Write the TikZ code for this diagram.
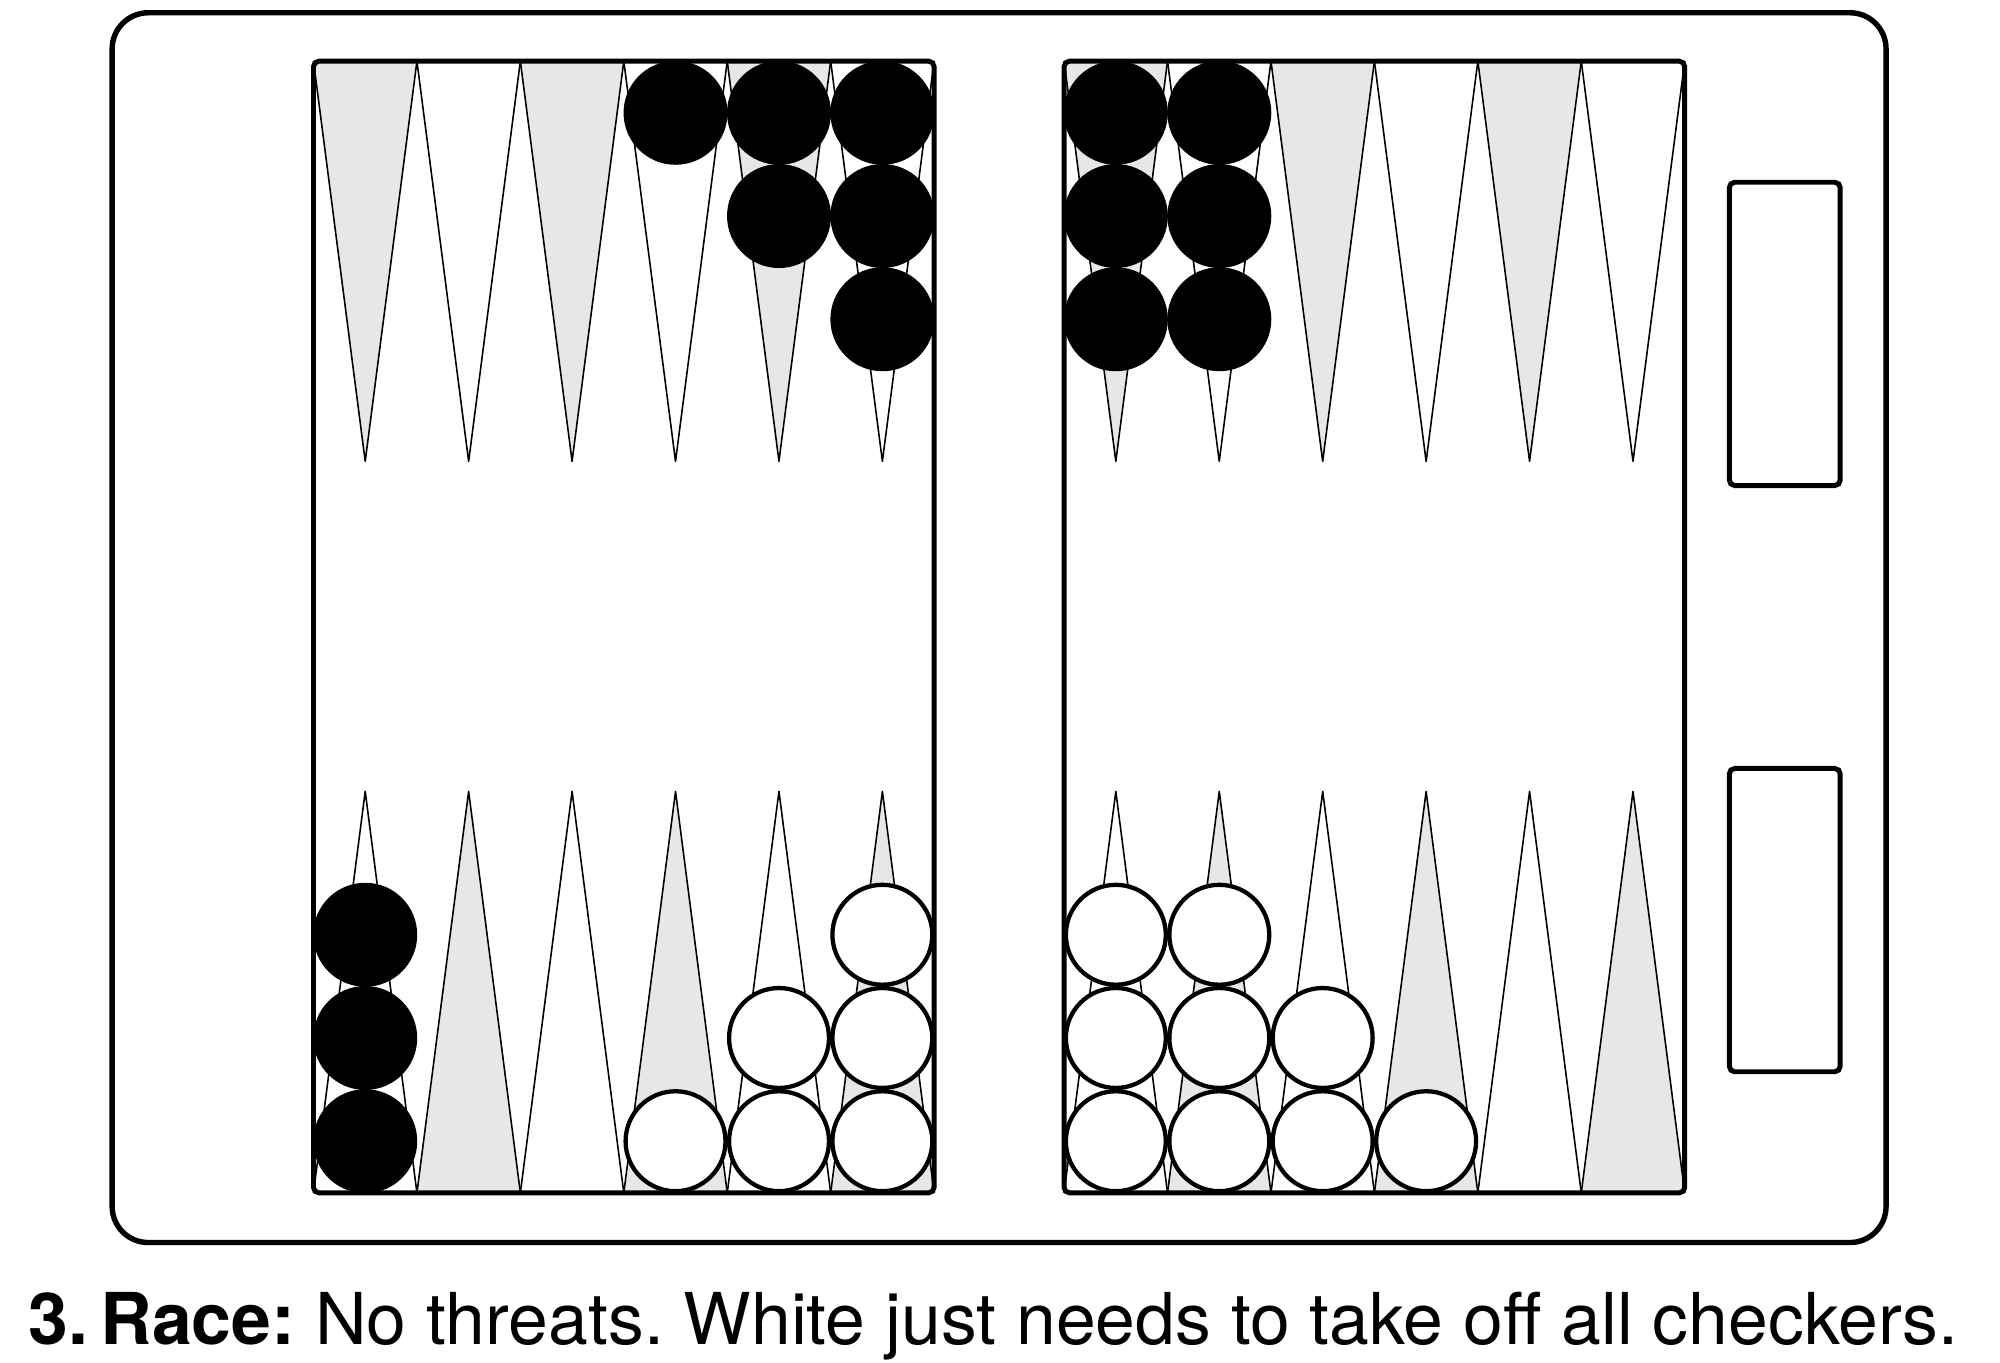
\documentclass[tikz,border=0pt]{standalone}
\usepackage{fontspec}
\setmainfont{TeX Gyre Heros}
\definecolor{ptgray}{RGB}{230,231,230}
\begin{document}
\frenchspacing
\begin{tikzpicture}[x=0.01cm,y=-0.01cm,
  frame/.style={draw=black,line width=1.1pt,rounded corners=1.2pt},
  outerframe/.style={draw=black,line width=1.2pt,rounded corners=8pt},
  pt/.style={draw=black,line width=0.35pt,line join=round},
  blackck/.style={fill=black,draw=none},
  whiteck/.style={fill=white,draw=black,line width=0.95pt}]
\useasboundingbox (0,0) rectangle (1560,1063.1);
\begin{scope}[scale=0.994]
% outer case
\draw[outerframe] (88,10) rectangle (1480,975);
% bear-off trays
\draw[frame] (1357,143) rectangle (1444,381);
\draw[frame] (1357,603) rectangle (1444,841);
% boards background
\fill[white] (246,48) rectangle (733,936);
\fill[white] (835,48) rectangle (1322,936);
% points
\def\pw{81.1667}
\foreach \bx in {246,835}{
  \foreach \i in {0,...,5}{
    \pgfmathsetmacro{\xa}{\bx+\i*\pw}
    \pgfmathsetmacro{\xm}{\xa+\pw/2}
    \pgfmathsetmacro{\xb}{\xa+\pw}
    \pgfmathtruncatemacro{\ev}{mod(\i,2)}
    \ifnum\ev=0
      \filldraw[pt,fill=ptgray] (\xa,48) -- (\xm,362) -- (\xb,48);
      \filldraw[pt,fill=white] (\xa,936) -- (\xm,621) -- (\xb,936);
    \else
      \filldraw[pt,fill=white] (\xa,48) -- (\xm,362) -- (\xb,48);
      \filldraw[pt,fill=ptgray] (\xa,936) -- (\xm,621) -- (\xb,936);
    \fi
  }
}
% board frames
\draw[frame] (246,48) rectangle (733,936);
\draw[frame] (835,48) rectangle (1322,936);
% checkers: top (black)
\foreach \cx/\n in {530.1/1,611.3/2,692.4/3,875.6/3,956.8/3}{
  \foreach \k in {1,...,\n}{
    \fill[blackck] (\cx,{88.5+81*(\k-1)}) circle (40.8);
  }
}
% bottom black
\foreach \k in {1,...,3}{
  \fill[blackck] (286.6,{895.5-81*(\k-1)}) circle (40.8);
}
% bottom white
\foreach \cx/\n in {530.1/1,611.3/2,692.4/3,875.6/3,956.8/3,1037.9/2,1119.1/1}{
  \foreach \k in {1,...,\n}{
    \filldraw[whiteck] (\cx,{895.5-81*(\k-1)}) circle (39.2);
  }
}
\end{scope}
% caption
\node[anchor=base west,inner sep=0pt] (cap) at (21.8,1048.3)
  {\resizebox{15.04cm}{!}{\fontsize{15pt}{18pt}\selectfont\textbf{3.\,Race:} No threats. White just needs to take off all checkers.}};
\end{tikzpicture}
\end{document}
